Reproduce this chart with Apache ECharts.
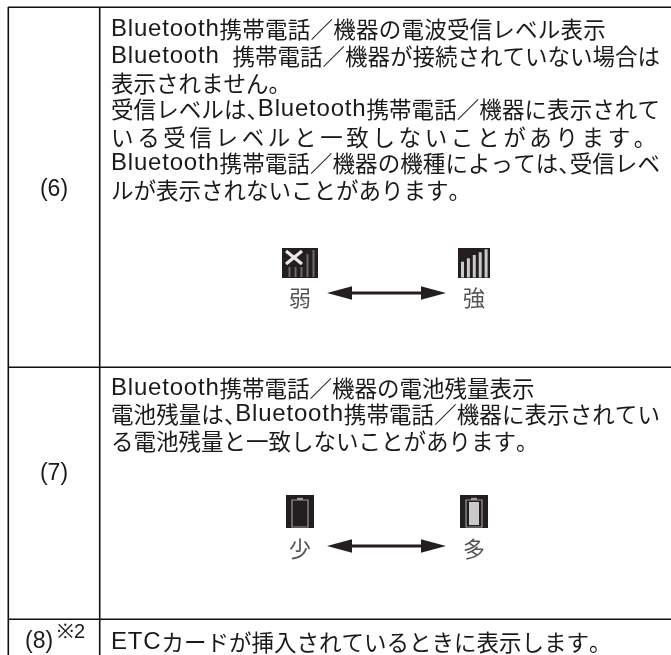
<!DOCTYPE html>
<html>
<head>
<meta charset="utf-8">
<style>html,body{margin:0;background:#fff}#chart{width:671px;height:655px}</style>
<script src="https://cdn.jsdelivr.net/npm/echarts@6/dist/echarts.min.js"></script>
</head>
<body>
<div id="chart"></div>
<script>
// table content
const rowLabels = ['(6)', '(7)', '(8)'];
const noteMark = '※2';
const row6Lines = [
    'Bluetooth携帯電話／機器の電波受信レベル表示',
    'Bluetooth 携帯電話／機器が接続されていない場合は',
    '表示されません。',
    '受信レベルは、Bluetooth携帯電話／機器に表示されて',
    'いる受信レベルと一致しないことがあります。',
    'Bluetooth携帯電話／機器の機種によっては、受信レベ',
    'ルが表示されないことがあります。'
];
const row7Lines = [
    'Bluetooth携帯電話／機器の電池残量表示',
    '電池残量は、Bluetooth携帯電話／機器に表示されてい',
    'る電池残量と一致しないことがあります。'
];
const row8Lines = ['ETCカードが挿入されているときに表示します。'];
const signalLabels = ['弱', '強'];
const batteryLabels = ['少', '多'];

const LATIN = '"Liberation Sans",sans-serif';
const CJK = '"Noto Sans CJK JP",sans-serif';
const LATIN_SIZE = 24, TRACK = 0.8;
const SIZE = 22.5;
const TEXT_X = 111;
const INK = '#1a1a1a';
const ICON = '#231f20';

const ctx = document.createElement('canvas').getContext('2d');
const isLatin = t => /^[A-Za-z ]$/.test(t);

function advance(tok) {
    ctx.font = isLatin(tok) ? LATIN_SIZE + 'px ' + LATIN : SIZE + 'px ' + CJK;
    const w = ctx.measureText(tok).width;
    if (isLatin(tok)) return w + TRACK;
    return tok === '、' ? w * 0.5 : w;
}

// place a line glyph by glyph, stretched to the right edge when one is given
function textLine(str, y, right) {
    const toks = str.split('');
    const natural = toks.reduce((s, t) => s + advance(t), 0);
    const extra = right ? right - TEXT_X - natural : 0;
    const hasSpace = toks.includes(' ');
    const cjkCount = toks.filter(t => !isLatin(t)).length;
    const gap = hasSpace ? 0 : extra / cjkCount;
    let x = TEXT_X;
    const out = [];
    toks.forEach(t => {
        if (t === ' ') {
            x += advance(t) + extra;
            return;
        }
        out.push(isLatin(t) ? label(t, x, y, 'left', LATIN_SIZE, INK, LATIN) : label(t, x, y, 'left', SIZE, INK, CJK));
        x += advance(t) + (isLatin(t) ? 0 : gap);
    });
    return out;
}

function label(text, x, y, align, size, color, family) {
    return {
        type: 'text', x, y,
        style: {
            text, fill: color || INK, font: (size || 23) + 'px ' + (family || LATIN),
            textAlign: align, textVerticalAlign: 'middle'
        }
    };
}

function rule(x1, y1, x2, y2) {
    return { type: 'line', shape: { x1, y1, x2, y2 }, style: { stroke: '#111', lineWidth: 1.6 } };
}

function box(x, y, width, height, fill) {
    return { type: 'rect', shape: { x, y, width, height }, style: { fill } };
}

function arrow(y) {
    const l = 327, r = 446, head = 25, h = 6.7;
    return [
        box(l + head - 2, y - 1.5, r - l - 2 * head + 4, 3, ICON),
        { type: 'polygon', shape: { points: [[l, y], [l + head, y - h], [l + head, y + h]] }, style: { fill: ICON } },
        { type: 'polygon', shape: { points: [[r, y], [r - head, y - h], [r - head, y + h]] }, style: { fill: ICON } }
    ];
}

function signalDim(x) {
    const tops = [267, 267, 267, 254, 250];
    const out = [box(x, 248, 36, 30, ICON)];
    tops.forEach((top, i) => out.push(box(x + 6.5 + i * 6, top, 2, 277 - top, '#6a6a6a')));
    const s = { stroke: '#e8e8e8', lineWidth: 3.2 };
    out.push({ type: 'line', shape: { x1: x + 4, y1: 251, x2: x + 20, y2: 264 }, style: s });
    out.push({ type: 'line', shape: { x1: x + 20, y1: 251, x2: x + 4, y2: 264 }, style: s });
    return out;
}

function signalLit(x) {
    const tops = [261.7, 258.3, 255, 252.3, 249.3];
    const out = [box(x, 248, 32, 30, ICON)];
    tops.forEach((top, i) => out.push(box(x + 3 + i * 5.9, top, 3, 277.5 - top, '#c8cacb')));
    return out;
}

function batteryIcon(x, full) {
    const out = [
        box(x, 495, 28, 33, ICON),
        { type: 'rect', shape: { x: x + 6, y: 500, width: 16, height: 27 }, style: { fill: 'none', stroke: '#9a9a9a', lineWidth: 1.2 } },
        box(x + 11, 497.8, 6, 2.2, '#9a9a9a')
    ];
    if (full) out.push(box(x + 9, 502, 10, 23, '#c8cacb'));
    return out;
}

const row6Right = [606, 660, null, 660, 660, 660, null];
const row6Y = [29, 56, 83, 109, 137, 163, 190];
const row7Right = [null, 660, null];
const row7Y = [388, 414, 441];

const children = [
    rule(8, 7.3, 671, 7.3), rule(8, 367.3, 671, 367.3), rule(8, 619.3, 671, 619.3),
    rule(8.3, 7, 8.3, 655), rule(99.7, 7, 99.7, 655),
    label(rowLabels[0], 54, 190, 'center'),
    label(rowLabels[1], 54, 474, 'center'),
    label(rowLabels[2], 25, 642, 'left'),
    label(noteMark, 57, 632, 'left', 20)
];
row6Lines.forEach((s, i) => children.push(...textLine(s, row6Y[i], row6Right[i])));
row7Lines.forEach((s, i) => children.push(...textLine(s, row7Y[i], row7Right[i])));
children.push(...textLine(row8Lines[0], 642, null));

children.push(...signalDim(282), ...signalLit(458));
children.push(...batteryIcon(286, false), ...batteryIcon(460, true));
children.push(...arrow(293), ...arrow(546));
[signalLabels, batteryLabels].forEach((pair, i) => {
    const y = i ? 549 : 297.5;
    children.push(label(pair[0], 300, y, 'center', 22, '#555', CJK), label(pair[1], 474, y, 'center', 22, '#555', CJK));
});

const chart = echarts.init(document.getElementById('chart'));
chart.setOption({
    backgroundColor: '#fff',
    animation: false,
    graphic: { elements: [{ type: 'group', silent: true, children }] }
});
</script>
</body>
</html>
